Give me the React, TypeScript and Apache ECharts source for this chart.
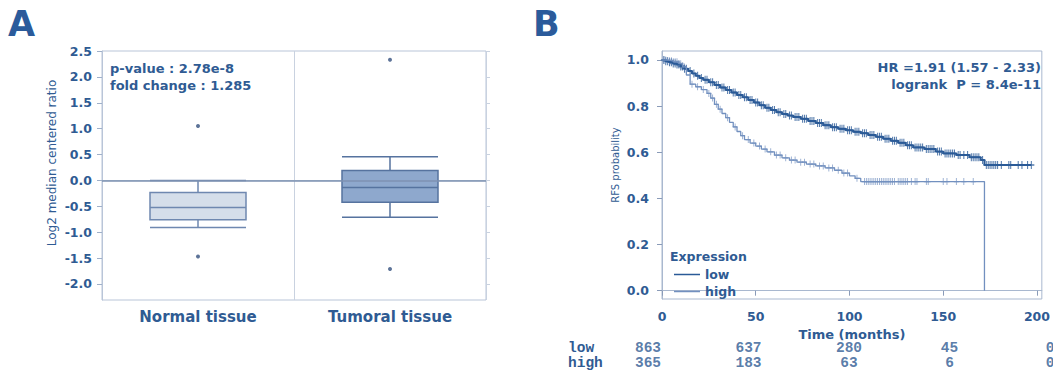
import React, { useEffect, useRef } from 'react';
import * as echarts from 'echarts';

// ---------- Panel A: box plot ----------
const boxCategories = ['Normal tissue', 'Tumoral tissue'];
// [lower whisker, Q1, median, Q3, upper whisker]
const normalStats = [-0.91, -0.76, -0.525, -0.235, 0.0];
const tumoralStats = [-0.71, -0.42, -0.135, 0.19, 0.455];
const outlierCategory = ['Normal tissue', 'Normal tissue', 'Tumoral tissue', 'Tumoral tissue'];
const outlierValues = [1.05, -1.47, 2.33, -1.71];
const boxYTicks = [-2, -1.5, -1, -0.5, 0, 0.5, 1, 1.5, 2, 2.5];

// ---------- Panel B: Kaplan-Meier ----------
// [time (months), survival probability] at each event
const lowSteps: [number, number][] = [
  [0, 1.0], [2, 0.995], [4, 0.99], [6, 0.985], [8, 0.98], [10, 0.972], [12, 0.962], [14, 0.952],
  [16, 0.942], [18, 0.932], [20, 0.922], [22, 0.914], [25, 0.903], [28, 0.892], [31, 0.881],
  [34, 0.87], [37, 0.859], [40, 0.848], [43, 0.838], [46, 0.827], [49, 0.816], [52, 0.804],
  [55, 0.793], [58, 0.783], [61, 0.774], [64, 0.766], [67, 0.759], [70, 0.753], [74, 0.745],
  [78, 0.736], [82, 0.727], [86, 0.717], [90, 0.709], [94, 0.702], [98, 0.695], [102, 0.689],
  [106, 0.683], [110, 0.675], [114, 0.667], [118, 0.659], [122, 0.65], [126, 0.641], [130, 0.63],
  [134, 0.621], [140, 0.614], [146, 0.603], [150, 0.595], [157, 0.588], [164, 0.578],
  [170, 0.566], [172, 0.545], [197, 0.545],
];
const highSteps: [number, number][] = [
  [0, 1.0], [3, 0.997], [6, 0.992], [9, 0.984], [11, 0.97], [13, 0.935], [15, 0.895], [18, 0.884],
  [21, 0.872], [24, 0.855], [26, 0.835], [28, 0.808], [30, 0.787], [32, 0.768], [34, 0.75],
  [36, 0.73], [38, 0.71], [40, 0.69], [42, 0.672], [44, 0.655], [47, 0.64], [50, 0.627],
  [53, 0.614], [56, 0.602], [60, 0.588], [64, 0.576], [68, 0.566], [72, 0.557], [77, 0.549],
  [82, 0.541], [87, 0.532], [92, 0.522], [96, 0.51], [100, 0.498], [103, 0.487], [106, 0.473],
  [172, 0.0],
];
// censoring times (months)
const lowCensor = [
  1, 2, 3, 4, 5, 6, 7, 8, 9, 10, 11, 12, 13, 15, 17, 19, 21, 23, 24, 26, 27, 29, 30, 32, 33, 35,
  36, 38, 39, 41, 42, 44, 45, 47, 48, 50, 51, 53, 54, 56, 57, 59, 60, 62, 63, 65, 66, 68, 69, 71,
  72, 73, 75, 76, 77, 79, 80, 81, 83, 84, 85, 87, 88, 89, 91, 92, 93, 95, 96, 97, 99, 100, 101,
  103, 104, 105, 107, 108, 109, 111, 112, 113, 115, 116, 117, 119, 120, 121, 123, 124, 125, 127,
  128, 129, 131, 132, 133, 135, 136, 137, 138, 139, 141, 142, 143, 144, 145, 147, 148, 149, 151,
  152, 153, 154, 155, 156, 158, 159, 161, 163, 165, 166, 167, 168, 169, 171, 173, 174, 175, 176,
  177, 178, 179, 181, 185, 186, 190, 192, 195, 197,
];
const highCensor = [
  1, 2, 3, 4, 5, 6, 7, 8, 9, 10, 12, 16, 19, 22, 25, 27, 29, 31, 35, 39, 43, 46, 49, 52, 55, 58,
  61, 63, 66, 69, 71, 74, 76, 79, 81, 84, 86, 89, 91, 94, 97, 99, 104, 108, 109, 110, 111, 112,
  113, 114, 115, 116, 117, 118, 119, 120, 121, 122, 123, 124, 126, 127, 128, 129, 130, 131, 133,
  135, 136, 141, 142, 150, 152, 157, 161, 166,
];
const kmXTicks = [0, 50, 100, 150, 200];
const kmYTicks = [0, 0.2, 0.4, 0.6, 0.8, 1.0];
const riskTimes = [0, 50, 100, 150, 200];
const riskLow = [863, 637, 280, 45, 0];
const riskHigh = [365, 183, 63, 6, 0];
const groups = ['low', 'high'];

const TXT = '#2f5b93';
const LOW_C = '#2a5a97';
const HIGH_C = '#7290bf';
const PLUS = 'path://M0,5L10,5M5,0L5,10';

function survAt(steps: [number, number][], t: number): number {
  let s = steps[0][1];
  for (const [ts, v] of steps) {
    if (ts <= t) s = v;
  }
  return s;
}

export default function App() {
  const ref = useRef<HTMLDivElement>(null);
  useEffect(() => {
    if (!ref.current) return;
    const chart = echarts.init(ref.current, undefined, { renderer: 'svg' });
    const boldFont = { fontFamily: 'DejaVu Sans', fontWeight: 'bold' as const, color: TXT };
    chart.setOption({
      animation: false,
      backgroundColor: '#ffffff',
      grid: [
        { left: 102, top: 51, width: 384, height: 249, show: true, borderColor: '#b9c5d8', borderWidth: 1 },
        { left: 662, top: 51, width: 388, height: 248, show: true, borderColor: '#a9b8cf', borderWidth: 1 },
        { left: 648, top: 341, width: 402, height: 29 },
      ],
      xAxis: [
        {
          gridIndex: 0, type: 'category', data: boxCategories,
          axisLine: { lineStyle: { color: '#b9c5d8' } },
          axisTick: { show: false },
          axisLabel: { ...boldFont, fontSize: 15, margin: 9 },
          splitLine: { show: true, lineStyle: { color: '#c9d2e0' } },
        },
        {
          gridIndex: 1, type: 'value', min: 0, max: 202.6,
          axisLine: { show: true, lineStyle: { color: '#a9b8cf' } },
          axisTick: { show: true, length: 5, customValues: kmXTicks, lineStyle: { color: '#8a9bb8' } },
          axisLabel: { ...boldFont, fontSize: 12.5, margin: 11, customValues: kmXTicks },
          splitLine: { show: false },
          name: 'Time (months)', nameLocation: 'middle', nameGap: 19,
          nameTextStyle: { ...boldFont, fontSize: 13 },
        },
        { gridIndex: 2, type: 'value', min: 0, max: 200, show: false },
      ],
      yAxis: [
        {
          gridIndex: 0, type: 'value', min: -2.31, max: 2.5,
          axisLine: { show: true, lineStyle: { color: '#b9c5d8' } },
          axisTick: { show: true, length: 5, customValues: boxYTicks, lineStyle: { color: '#9fb0c9' } },
          axisLabel: { ...boldFont, fontSize: 12.5, margin: 10, customValues: boxYTicks, formatter: (v: number) => v.toFixed(1) },
          splitLine: { show: false },
        },
        {
          gridIndex: 0, type: 'value', min: -2.31, max: 2.5, position: 'right',
          axisLine: { show: false },
          axisTick: { show: true, length: 4, customValues: boxYTicks, lineStyle: { color: '#c9d2e0' } },
          axisLabel: { show: false },
          splitLine: { show: false },
        },
        {
          gridIndex: 1, type: 'value', min: -0.036, max: 1.039,
          axisLine: { show: true, lineStyle: { color: '#a9b8cf' } },
          axisTick: { show: true, length: 5, customValues: kmYTicks, lineStyle: { color: '#8a9bb8' } },
          axisLabel: { ...boldFont, fontSize: 12.5, margin: 13, customValues: kmYTicks, formatter: (v: number) => v.toFixed(1) },
          splitLine: { show: false },
        },
        {
          gridIndex: 2, type: 'category', data: groups, inverse: true,
          axisLine: { show: false }, axisTick: { show: false },
          axisLabel: { fontFamily: 'Liberation Mono', fontWeight: 'bold', fontSize: 14.5, color: TXT, align: 'left', margin: 80, interval: 0 },
        },
      ],
      legend: {
        left: 669, top: 263, orient: 'vertical', itemWidth: 26, itemHeight: 1.5, itemGap: 4,
        icon: 'rect',
        data: ['low', 'high'],
        textStyle: { ...boldFont, fontSize: 12.5 },
        selectedMode: false,
      },
      graphic: [
        { type: 'text', x: 8, y: 24, style: { text: 'A', font: 'bold 35px "DejaVu Sans"', fill: '#2b5b9b', verticalAlign: 'middle' } },
        { type: 'text', x: 533, y: 24, style: { text: 'B', font: 'bold 35px "DejaVu Sans"', fill: '#2b5b9b', verticalAlign: 'middle' } },
        { type: 'text', x: 110, y: 68, style: { text: 'p-value : 2.78e-8', font: 'bold 13px "DejaVu Sans"', fill: TXT, verticalAlign: 'middle' } },
        { type: 'text', x: 110, y: 85, style: { text: 'fold change : 1.285', font: 'bold 13px "DejaVu Sans"', fill: TXT, verticalAlign: 'middle' } },
        {
          type: 'text', x: 52, y: 163, rotation: Math.PI / 2,
          style: { text: 'Log2 median centered ratio', font: '12px "DejaVu Sans"', fill: TXT, align: 'center', verticalAlign: 'middle' },
        },
        {
          type: 'text', x: 615, y: 165, rotation: Math.PI / 2,
          style: { text: 'RFS probability', font: '10px "DejaVu Sans"', fill: TXT, align: 'center', verticalAlign: 'middle' },
        },
        { type: 'text', x: 1041, y: 67, style: { text: 'HR =1.91 (1.57 - 2.33)', font: 'bold 13px "DejaVu Sans"', fill: TXT, align: 'right', verticalAlign: 'middle' } },
        { type: 'text', x: 1041, y: 84, style: { text: 'logrank  P = 8.4e-11', font: 'bold 13px "DejaVu Sans"', fill: TXT, align: 'right', verticalAlign: 'middle' } },
        { type: 'text', x: 670, y: 256, style: { text: 'Expression', font: 'bold 12.5px "DejaVu Sans"', fill: TXT, verticalAlign: 'middle' } },
      ],
      series: [
        {
          type: 'boxplot', xAxisIndex: 0, yAxisIndex: 0, boxWidth: [96, 96],
          data: [
            { value: normalStats, itemStyle: { color: '#d5deea', borderColor: '#6f88b0', borderWidth: 1.5 } },
            { value: tumoralStats, itemStyle: { color: '#8ea8cd', borderColor: '#56739f', borderWidth: 1.5 } },
          ],
          markLine: {
            silent: true, symbol: ['none', 'none'], label: { show: false },
            lineStyle: { color: '#7e92b2', width: 1.5, type: 'solid' },
            data: [{ yAxis: 0 }],
          },
        },
        {
          type: 'scatter', xAxisIndex: 0, yAxisIndex: 0, symbolSize: 4,
          itemStyle: { color: '#34507e' },
          data: outlierValues.map((v, i) => [outlierCategory[i], v]),
        },
        {
          name: 'low', type: 'line', xAxisIndex: 1, yAxisIndex: 2, step: 'end', symbol: 'none',
          color: LOW_C, lineStyle: { color: LOW_C, width: 2 }, data: lowSteps,
        },
        {
          name: 'high', type: 'line', xAxisIndex: 1, yAxisIndex: 2, step: 'end', symbol: 'none',
          color: HIGH_C, lineStyle: { color: HIGH_C, width: 1.3 }, data: highSteps,
        },
        {
          name: 'low censored', type: 'scatter', xAxisIndex: 1, yAxisIndex: 2, symbol: PLUS, symbolSize: [6, 8],
          itemStyle: { color: 'none', borderColor: LOW_C, borderWidth: 1.2 },
          data: lowCensor.map((t) => [t, survAt(lowSteps, t)]),
        },
        {
          name: 'high censored', type: 'scatter', xAxisIndex: 1, yAxisIndex: 2, symbol: PLUS, symbolSize: [5, 7],
          itemStyle: { color: 'none', borderColor: HIGH_C, borderWidth: 1 },
          data: highCensor.map((t) => [t, survAt(highSteps, t)]),
        },
        {
          type: 'scatter', xAxisIndex: 2, yAxisIndex: 3, symbolSize: 1,
          itemStyle: { color: 'transparent' },
          label: {
            show: true, position: 'inside', formatter: (p: any) => String(p.value[2]),
            fontFamily: 'Liberation Mono', fontWeight: 'bold', fontSize: 14.5, color: TXT,
          },
          data: [
            ...riskTimes.map((t, i) => [t, 'low', riskLow[i]]),
            ...riskTimes.map((t, i) => [t, 'high', riskHigh[i]]),
          ],
        },
      ],
    });
    return () => chart.dispose();
  }, []);
  return <div ref={ref} style={{ position: 'absolute', left: 0, top: 0, width: 1053, height: 370 }} />;
}
